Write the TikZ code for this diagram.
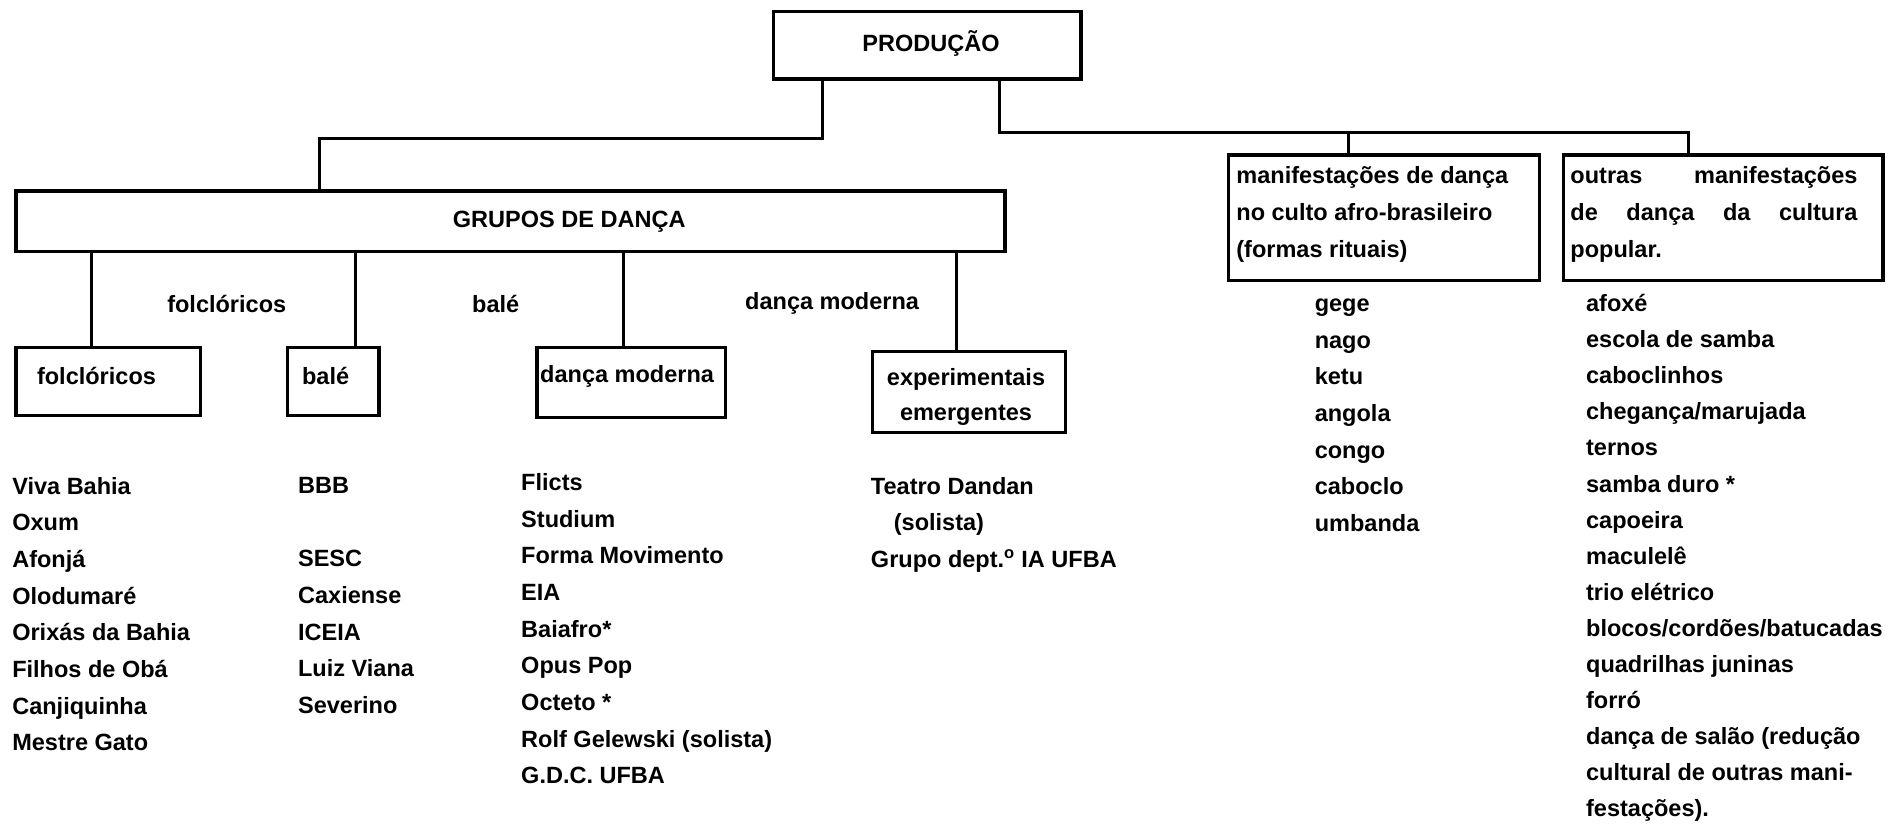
\documentclass[tikz,border=0pt]{standalone}
\usepackage{fontspec}
\setmainfont{Liberation Sans}
\usepackage{tikz}
\usetikzlibrary{positioning,calc}

\begin{document}
\begin{tikzpicture}[
    x=1pt, y=-1pt,
    font=\bfseries\fontsize{19.5}{30.4}\selectfont,
    box/.style={rectangle, draw, line width=2.8pt, anchor=north west, inner sep=0pt},
    link/.style={line width=2.4pt},
    lbl/.style={inner sep=0pt},
    list/.style={anchor=north west, inner sep=0pt, align=left, execute at begin node={\rule{0pt}{15pt}}}
]
\useasboundingbox (0,0) rectangle (1568,687);

% Top level
\node[box, minimum width=255pt, minimum height=56pt] (prod) at (640,8) {};
\node[lbl] (prod-t) at (772,36) {PRODUÇÃO};

% Dance groups
\node[box, minimum width=820pt, minimum height=50pt] (grupos) at (12,157) {};
\node[lbl] (grupos-t) at (472,184) {GRUPOS DE DANÇA};

% Ritual and popular forms
\node[box, minimum width=258pt, minimum height=104pt] (rit) at (1017,127) {};
\node[list] (rit-t) at ($(rit.north west)+(8,11)$) {manifestações de dança\\no culto afro-brasileiro\\(formas rituais)};
\node[box, minimum width=265pt, minimum height=104pt] (pop) at (1295,127) {};
\node[list] (pop-t) at ($(pop.north west)+(7,11)$) {\makebox[238pt][s]{outras manifestações}\\\makebox[238pt][s]{de dança da cultura}\\popular.};

% Kinds of group
\node[box, minimum width=153pt, minimum height=56pt] (folk) at (12,287) {};
\node[lbl] (folk-t) at (80,312) {folclóricos};
\node[box, minimum width=76pt, minimum height=56pt] (bale) at (237,287) {};
\node[lbl] (bale-t) at (270,312) {balé};
\node[box, minimum width=156pt, minimum height=58pt] (moder) at (444,287) {};
\node[lbl] (moder-t) at (520,312) {dança moderna};
\node[box, minimum width=160pt, minimum height=67pt] (exper) at (722,290) {};
\node[lbl, align=center, font=\bfseries\fontsize{19.5}{29}\selectfont] (exper-t) at (801,329) {experimentais\\emergentes};

% Labels beside the drops
\node[lbl] (folk-l) at (188,252) {folclóricos};
\node[lbl] (bale-l) at (411,252) {balé};
\node[lbl] (moder-l) at (690,252) {dança moderna};

% Lists
\node[list] (folk-list) at (10,395.5) {Viva Bahia\\Oxum\\Afonjá\\Olodumaré\\Orixás da Bahia\\Filhos de Obá\\Canjiquinha\\Mestre Gato};
\node[list] (bale-list) at (247,395.5) {BBB\\[30.4pt]SESC\\Caxiense\\ICEIA\\Luiz Viana\\Severino};
\node[list] (moder-list) at (432,392.5) {Flicts\\Studium\\Forma Movimento\\EIA\\Baiafro*\\Opus Pop\\Octeto *\\Rolf Gelewski (solista)\\G.D.C. UFBA};
\node[list] (exper-list) at (722,395.5) {Teatro Dandan\\\hspace*{19pt}(solista)\\Grupo dept.\textsuperscript{o} IA UFBA};
\node[list] (rit-list) at (1090,247.5) {gege\\nago\\ketu\\angola\\congo\\caboclo\\umbanda};
\node[list, font=\bfseries\fontsize{19.5}{29.9}\selectfont] (pop-list) at (1315,244) {afoxé\\escola de samba\\caboclinhos\\chegança/marujada\\ternos\\samba duro *\\capoeira\\maculelê\\trio elétrico\\blocos/cordões/batucadas\\quadrilhas juninas\\forró\\dança de salão (redução\\cultural de outras mani-\\festações).};

% Links
\coordinate (lbus) at ($(prod.south west)+(42,48)$);
\coordinate (rbus) at ($(prod.south west)+(189,43)$);
\coordinate (grupos-top) at ($(grupos.north west)+(253,0)$);
\coordinate (rit-top) at ($(rit.north west)+(101,0)$);
\coordinate (pop-top) at ($(pop.north west)+(105,0)$);
\draw[link] ($(prod.south west)+(42,0)$) -- (lbus) -| (grupos-top);
\draw[link] ($(prod.south west)+(189,0)$) -- (rbus) -| (pop-top);
\draw[link] (rit-top) -- (rit-top |- rbus);

\coordinate (folk-top) at ($(folk.north west)+(64,0)$);
\coordinate (bale-top) at ($(bale.north west)+(58,0)$);
\coordinate (moder-top) at ($(moder.north west)+(73,0)$);
\coordinate (exper-top) at ($(exper.north west)+(71,0)$);
\draw[link] (folk-top) -- (folk-top |- grupos.south);
\draw[link] (bale-top) -- (bale-top |- grupos.south);
\draw[link] (moder-top) -- (moder-top |- grupos.south);
\draw[link] (exper-top) -- (exper-top |- grupos.south);

\end{tikzpicture}
\end{document}
